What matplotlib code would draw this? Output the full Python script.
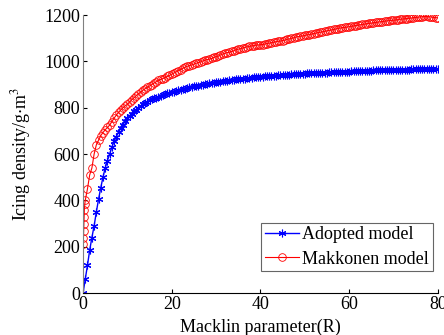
import numpy as np
import matplotlib
matplotlib.use('Agg')
import matplotlib.pyplot as plt

plt.rcParams['font.family'] = ['Liberation Serif', 'DejaVu Serif']
plt.rcParams['mathtext.fontset'] = 'stix'

# Macklin parameter R, sampled every 0.5
R = np.arange(0, 80.5, 0.5)

adopted = [0, 60, 120, 185, 240, 290, 350, 405, 455, 500,
           540, 572, 600, 630, 655, 675, 695, 712, 727, 742,
           755, 765, 775, 784, 792, 800, 808, 815, 822, 827,
           832, 836, 840, 844, 848, 852, 855, 859, 862, 865,
           868, 870, 873, 875, 878, 881, 883, 885, 888, 890,
           892, 894, 896, 898, 900, 901, 903, 905, 907, 908,
           910, 911, 913, 914, 916, 917, 918, 919, 921, 922,
           923, 924, 925, 926, 928, 929, 930, 931, 932, 932,
           933, 934, 935, 936, 937, 937, 938, 939, 940, 940,
           941, 942, 942, 943, 944, 944, 945, 946, 946, 947,
           947, 948, 948, 949, 950, 950, 951, 951, 952, 952,
           952, 953, 953, 954, 954, 955, 955, 955, 956, 956,
           956, 957, 957, 958, 958, 958, 959, 959, 960, 960,
           960, 961, 961, 961, 962, 962, 962, 963, 963, 963,
           963, 964, 964, 964, 965, 965, 965, 965, 966, 966,
           966, 966, 967, 967, 967, 967, 968, 968, 968, 968,
           968]

# Makkonen model: extra samples close to R = 0
mak_R = [0, 0.1, 0.15, 0.2, 0.25, 0.3, 0.4] + list(R[1:])
makkonen = [210, 240, 270, 300, 330, 360, 385,
            400, 450, 510, 540, 600, 640, 660, 680, 693,
            705, 715, 725, 740, 755, 768, 780, 790, 800, 808,
            815, 825, 835, 843, 852, 860, 868, 875, 882, 888,
            894, 900, 906, 912, 918, 922, 926, 930, 935, 940,
            945, 950, 955, 960, 965, 970, 975, 979, 982, 985,
            988, 992, 995, 998, 1002, 1005, 1008, 1010, 1013, 1017,
            1020, 1023, 1028, 1032, 1035, 1038, 1040, 1043, 1046, 1050,
            1053, 1055, 1058, 1060, 1063, 1065, 1067, 1068, 1070, 1071,
            1072, 1073, 1075, 1077, 1079, 1081, 1083, 1085, 1087, 1088,
            1090, 1092, 1095, 1097, 1100, 1102, 1105, 1107, 1109, 1110,
            1112, 1114, 1116, 1118, 1120, 1122, 1124, 1126, 1128, 1130,
            1132, 1134, 1136, 1138, 1140, 1142, 1144, 1146, 1147, 1148,
            1150, 1152, 1153, 1155, 1156, 1158, 1160, 1161, 1163, 1164,
            1165, 1167, 1168, 1170, 1171, 1172, 1174, 1175, 1176, 1177,
            1178, 1179, 1180, 1182, 1183, 1184, 1185, 1186, 1187, 1189,
            1190, 1191, 1192, 1193, 1194, 1194, 1193, 1192, 1190, 1189,
            1188]

fig = plt.figure(figsize=(4.44, 3.35), dpi=100)
ax = fig.add_axes([0.187, 0.125, 0.799, 0.83])

ax.plot(R, adopted, color='b', marker=(6, 2, 0), markersize=5.5,
        markeredgewidth=0.8, linewidth=1.0, label='Adopted model')
ax.plot(mak_R, makkonen, color='r', marker='o', markersize=5.5,
        markerfacecolor='none', markeredgewidth=0.6, linewidth=0.8,
        label='Makkonen model')

ax.set_xlim(0, 80)
ax.set_ylim(0, 1200)
ax.set_xticks([0, 20, 40, 60, 80])
ax.set_yticks(range(0, 1201, 200))
ax.tick_params(direction='in', labelsize=13, length=3, pad=2)
ax.spines['top'].set_visible(False)
ax.spines['right'].set_visible(False)
ax.spines['left'].set_color('#808080')

ax.set_xlabel('Macklin parameter(R)', fontsize=13, labelpad=4)
ax.set_ylabel(r'Icing density/g$\cdot$m$^3$', fontsize=13, labelpad=8)

leg = ax.legend(loc='lower right', bbox_to_anchor=(0.986, 0.079),
                borderaxespad=0, fontsize=13, fancybox=False,
                edgecolor='#404040', borderpad=0.2, handlelength=1.9,
                handletextpad=0.2, labelspacing=0.4)
leg.get_frame().set_linewidth(0.8)

fig.savefig('out.png', dpi=100)
